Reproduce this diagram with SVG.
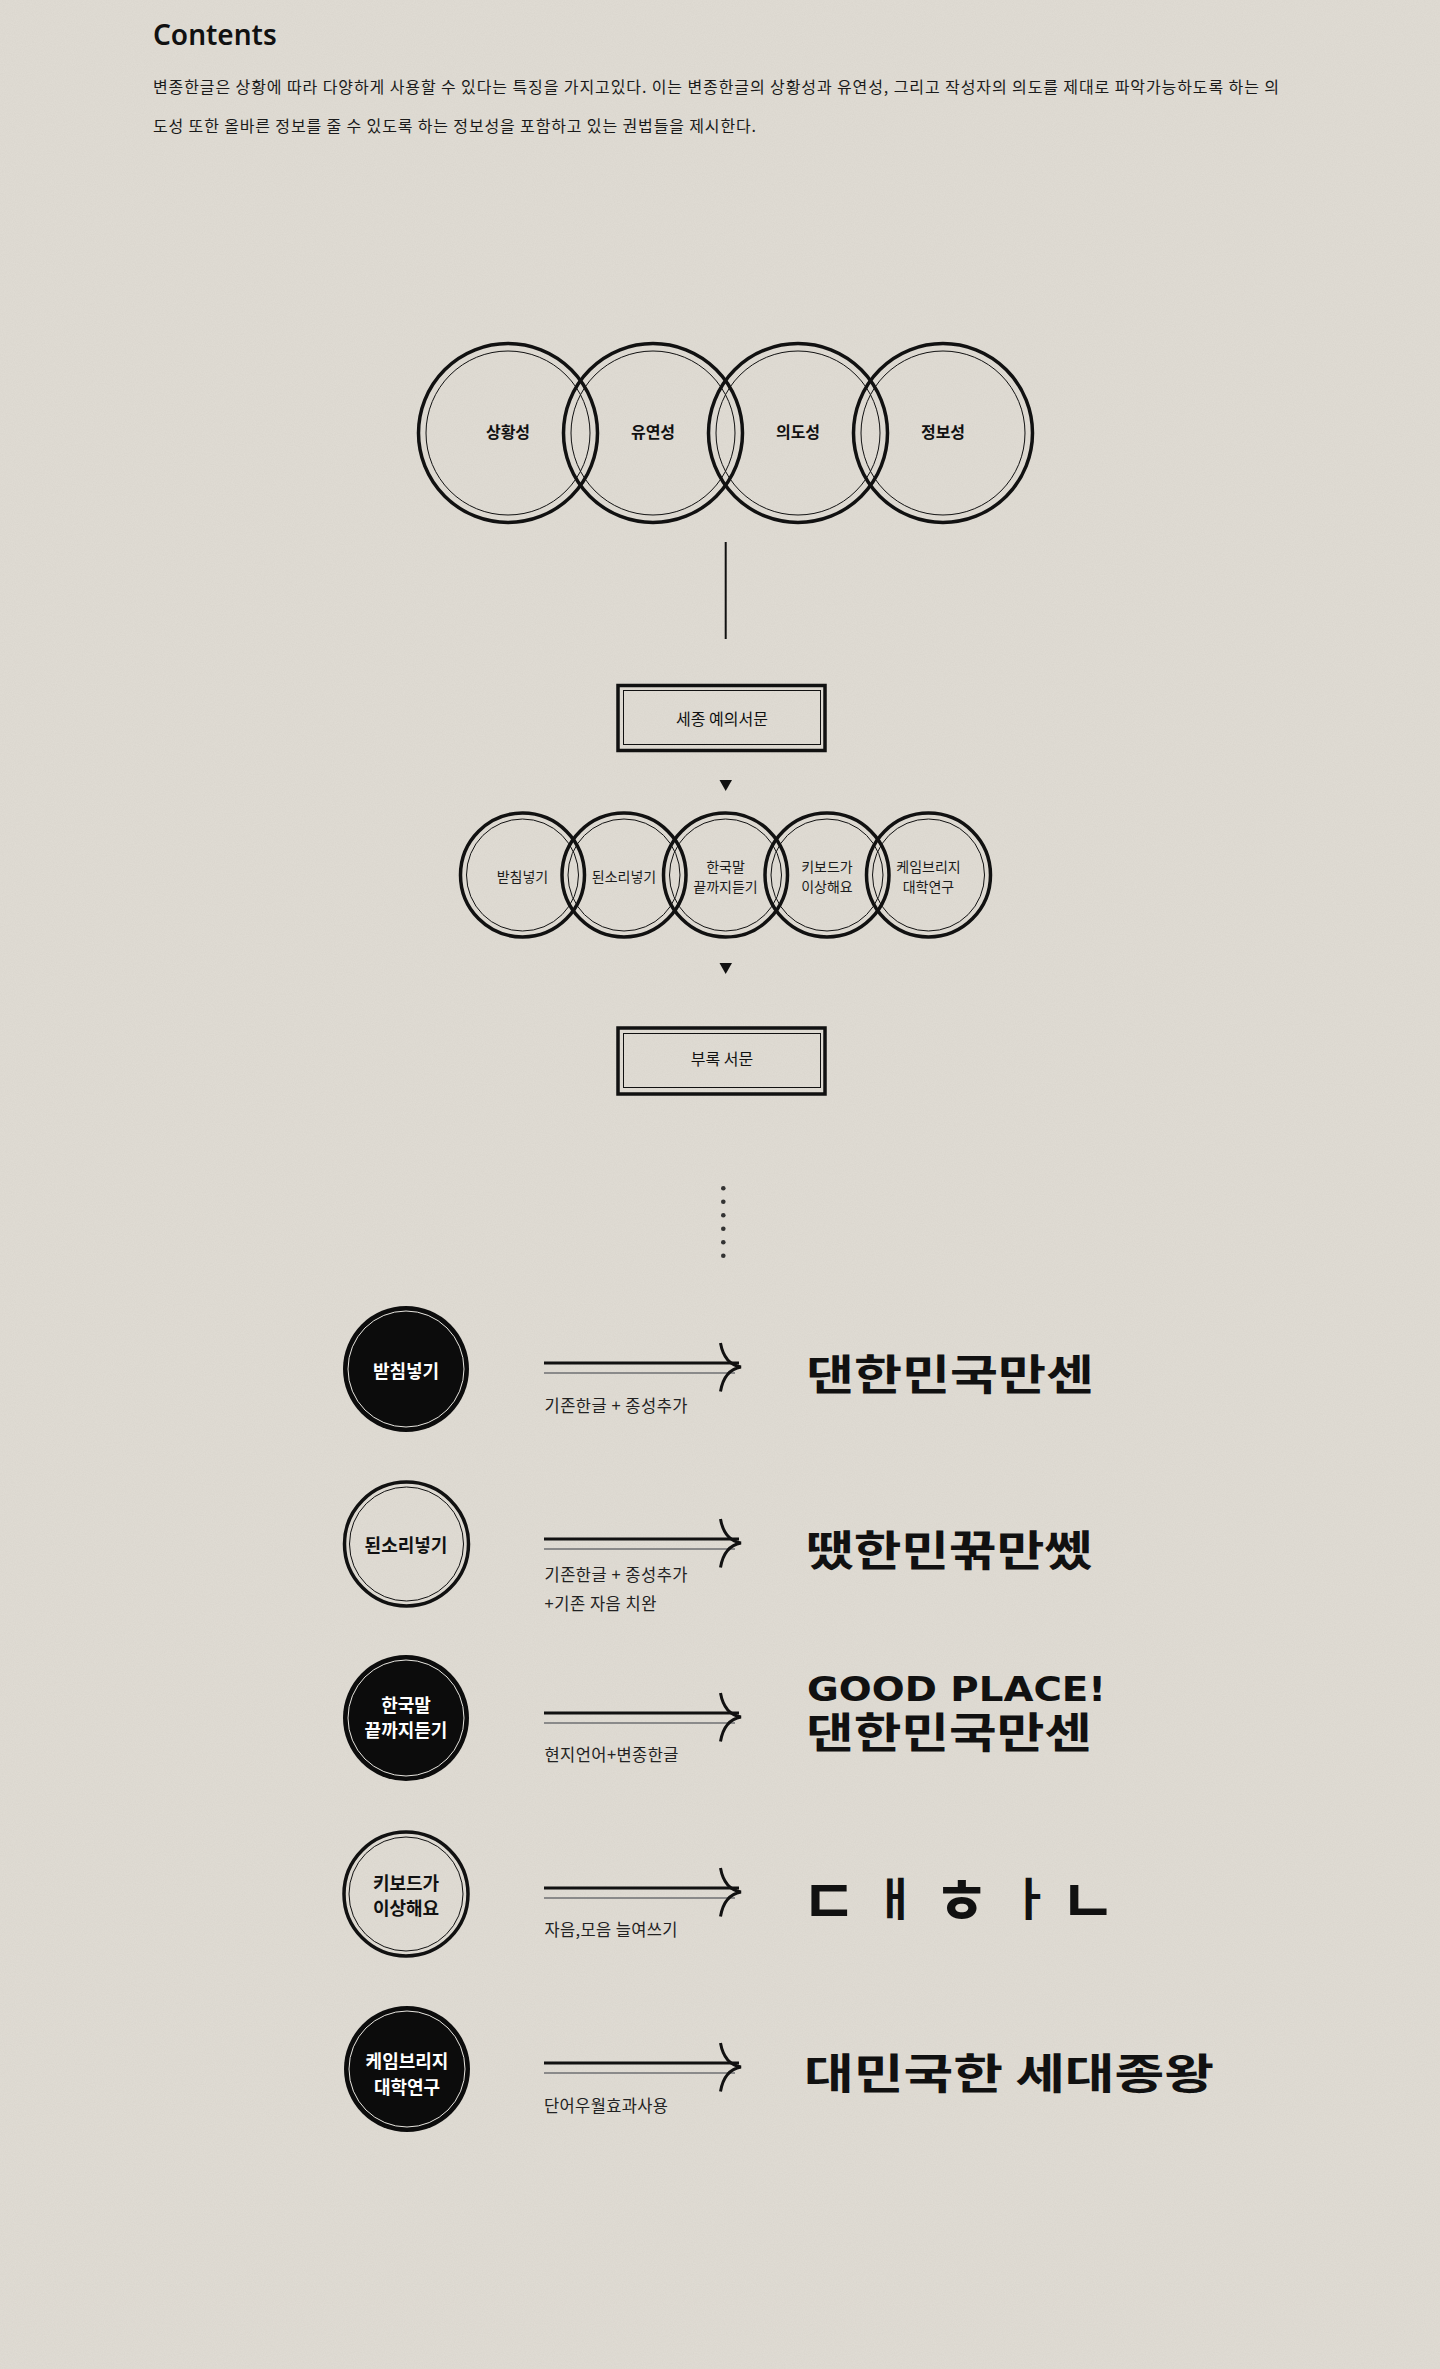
<svg xmlns="http://www.w3.org/2000/svg" width="1440" height="2369" viewBox="0 0 1440 2369">
<defs>
<style>
.kr{font-family:"Noto Sans CJK KR","Noto Sans",sans-serif;fill:#111}
.para{font-size:16px;fill:#1a1a1a}
.big{font-size:16px;font-weight:700;text-anchor:middle}
.box{font-size:16px;font-weight:400;text-anchor:middle}
.sm{font-size:14px;text-anchor:middle;fill:#1a1a1a}
.rl{font-size:18px;font-weight:700;text-anchor:middle}
.rlw{fill:#fff}
.sub{font-size:16.5px;fill:#222}
.res{font-size:42px;font-weight:700}
.jv{font-size:45px;font-weight:700;text-anchor:middle}
.jc{font-size:61px;font-weight:700;text-anchor:middle}
.ring{fill:none;stroke:#111;stroke-width:3.5}
.thin{fill:none;stroke:#111;stroke-width:1}
.thinw{fill:none;stroke:#e8e6e0;stroke-width:1}
</style>
<filter id="paper" x="0" y="0" width="100%" height="100%">
<feTurbulence type="fractalNoise" baseFrequency="0.9" numOctaves="2" seed="3" result="n"/>
<feColorMatrix type="matrix" values="0 0 0 0 0.45  0 0 0 0 0.42  0 0 0 0 0.38  0 0 0 -1.2 0.9"/>
</filter>
<g id="arr">
<line x1="544" y1="-4" x2="739" y2="-4" stroke="#111" stroke-width="3"/>
<line x1="544" y1="6" x2="735" y2="6" stroke="#8a8a8a" stroke-width="2"/>
<path d="M720.5,-24 C723,-10 729,-2 741,0 C729,2 723,10 720.5,24.5" fill="none" stroke="#111" stroke-width="3"/>
</g>
</defs>
<rect width="1440" height="2369" fill="#dfdbd3"/>
<rect width="1440" height="2369" filter="url(#paper)" opacity="0.12"/>

<g id="title">
<text x="153" y="45" font-family="'Noto Sans','Open Sans',sans-serif" font-size="28" font-weight="600" fill="#111">Contents</text>
</g>
<g id="intro" class="kr para">
<text x="153" y="93" textLength="1126" lengthAdjust="spacing">변종한글은 상황에 따라 다양하게 사용할 수 있다는 특징을 가지고있다. 이는 변종한글의 상황성과 유연성, 그리고 작성자의 의도를 제대로 파악가능하도록 하는 의</text>
<text x="153" y="131.5" textLength="603" lengthAdjust="spacing">도성 또한 올바른 정보를 줄 수 있도록 하는 정보성을 포함하고 있는 권법들을 제시한다.</text>
</g>

<g id="c-situation"><circle class="ring" cx="508" cy="433" r="89.5"/><circle class="thin" cx="508" cy="433" r="82"/><text class="kr big" x="508" y="438">상황성</text></g>
<g id="c-flexibility"><circle class="ring" cx="653" cy="433" r="89.5"/><circle class="thin" cx="653" cy="433" r="82"/><text class="kr big" x="653" y="438">유연성</text></g>
<g id="c-intention"><circle class="ring" cx="798" cy="433" r="89.5"/><circle class="thin" cx="798" cy="433" r="82"/><text class="kr big" x="798" y="438">의도성</text></g>
<g id="c-information"><circle class="ring" cx="943" cy="433" r="89.5"/><circle class="thin" cx="943" cy="433" r="82"/><text class="kr big" x="943" y="438">정보성</text></g>

<g id="box-sejong">
<rect x="618" y="685.5" width="207" height="65" fill="none" stroke="#111" stroke-width="3.5"/>
<rect x="623.5" y="690.5" width="197" height="54" class="thin"/>
<text class="kr box" x="722" y="725">세종 예의서문</text>
</g>

<g id="s1"><circle class="ring" cx="522.5" cy="875" r="62"/><circle class="thin" cx="522.5" cy="875" r="56"/><text class="kr sm" x="522.5" y="882">받침넣기</text></g>
<g id="s2"><circle class="ring" cx="624" cy="875" r="62"/><circle class="thin" cx="624" cy="875" r="56"/><text class="kr sm" x="624" y="882">된소리넣기</text></g>
<g id="s3"><circle class="ring" cx="725.5" cy="875" r="62"/><circle class="thin" cx="725.5" cy="875" r="56"/><text class="kr sm" x="725.5" y="872">한국말</text><text class="kr sm" x="725.5" y="892">끝까지듣기</text></g>
<g id="s4"><circle class="ring" cx="827" cy="875" r="62"/><circle class="thin" cx="827" cy="875" r="56"/><text class="kr sm" x="827" y="872">키보드가</text><text class="kr sm" x="827" y="892">이상해요</text></g>
<g id="s5"><circle class="ring" cx="928.5" cy="875" r="62"/><circle class="thin" cx="928.5" cy="875" r="56"/><text class="kr sm" x="928.5" y="872">케임브리지</text><text class="kr sm" x="928.5" y="892">대학연구</text></g>

<g id="box-appendix">
<rect x="618" y="1028" width="207" height="66" fill="none" stroke="#111" stroke-width="3.5"/>
<rect x="623.5" y="1033.5" width="197" height="54" class="thin"/>
<text class="kr box" x="722" y="1065">부록 서문</text>
</g>

<g id="connectors">
<line x1="725.7" y1="542" x2="725.7" y2="639" stroke="#111" stroke-width="2"/>
<polygon points="719.5,780 732,780 725.7,791" fill="#111"/>
<polygon points="719.5,963 732,963 725.7,974" fill="#111"/>
<g fill="#333">
<circle cx="723.3" cy="1188.3" r="2.3"/><circle cx="723.3" cy="1201.8" r="2.3"/><circle cx="723.3" cy="1215.3" r="2.3"/><circle cx="723.3" cy="1228.8" r="2.3"/><circle cx="723.3" cy="1242.3" r="2.3"/><circle cx="723.3" cy="1255.8" r="2.3"/>
</g>
<use href="#arr" transform="translate(0,1367)"/>
<use href="#arr" transform="translate(0,1543)"/>
<use href="#arr" transform="translate(0,1717)"/>
<use href="#arr" transform="translate(0,1892)"/>
<use href="#arr" transform="translate(0,2067)"/>
</g>

<g id="r1">
<circle cx="406" cy="1369" r="63" fill="#0c0c0c"/><circle class="thinw" cx="406" cy="1369" r="58"/>
<text class="kr rl rlw" x="406" y="1378">받침넣기</text>
</g>
<g id="r1-text">
<text class="kr sub" x="544.5" y="1412" textLength="143" lengthAdjust="spacing">기존한글 + 종성추가</text>
<text class="kr res" x="806" y="1390" textLength="288" lengthAdjust="spacingAndGlyphs">댄한민국만센</text>
</g>

<g id="r2">
<circle class="ring" cx="406.5" cy="1544" r="62"/><circle class="thin" cx="406.5" cy="1544" r="57"/>
<text class="kr rl" x="406" y="1551.5">된소리넣기</text>
</g>
<g id="r2-text">
<text class="kr sub" x="544.5" y="1580.5" textLength="143" lengthAdjust="spacing">기존한글 + 종성추가</text>
<text class="kr sub" x="544.5" y="1609.5" textLength="112" lengthAdjust="spacing">+기존 자음 치완</text>
<text class="kr res" x="806" y="1566" textLength="286" lengthAdjust="spacingAndGlyphs">&#xB560;한민&#xAFBA;만&#xC398;</text>
</g>

<g id="r3">
<circle cx="406" cy="1718" r="63" fill="#0c0c0c"/><circle class="thinw" cx="406" cy="1718" r="58"/>
<text class="kr rl rlw" x="406" y="1712">한국말</text>
<text class="kr rl rlw" x="406" y="1737">끝까지듣기</text>
</g>
<g id="r3-text">
<text class="kr sub" x="544.5" y="1760.5" textLength="134" lengthAdjust="spacing">현지언어+변종한글</text>
<text class="kr res"><tspan x="807" y="1701" font-family="'DejaVu Sans','Liberation Sans',sans-serif" font-size="34" font-weight="700" textLength="299" lengthAdjust="spacingAndGlyphs">GOOD PLACE!</tspan><tspan x="806" y="1748" textLength="286" lengthAdjust="spacingAndGlyphs">댄한민국만센</tspan></text>
</g>

<g id="r4">
<circle class="ring" cx="406" cy="1894" r="62"/><circle class="thin" cx="406" cy="1894" r="57"/>
<text class="kr rl" x="406" y="1890">키보드가</text>
<text class="kr rl" x="406" y="1915">이상해요</text>
</g>
<g id="r4-text">
<text class="kr sub" x="544.5" y="1935.5" textLength="133" lengthAdjust="spacing">자음,모음 늘여쓰기</text>
<text class="kr jc" x="829" y="1923.5">ㄷ</text>
<text class="kr jv" x="895" y="1916">ㅐ</text>
<text class="kr jc" x="961.5" y="1923.5">ㅎ</text>
<text class="kr jv" x="1030" y="1916">ㅏ</text>
<text class="kr jc" x="1088" y="1923.5">ㄴ</text>
</g>

<g id="r5">
<circle cx="407" cy="2069" r="63" fill="#0c0c0c"/><circle class="thinw" cx="407" cy="2069" r="58"/>
<text class="kr rl rlw" x="407" y="2067.5">케임브리지</text>
<text class="kr rl rlw" x="407" y="2093.5">대학연구</text>
</g>
<g id="r5-text">
<text class="kr sub" x="544" y="2112" textLength="124" lengthAdjust="spacing">단어우월효과사용</text>
<text class="kr res" x="804" y="2089" textLength="410" lengthAdjust="spacingAndGlyphs">대민국한 세대종왕</text>
</g>
</svg>
